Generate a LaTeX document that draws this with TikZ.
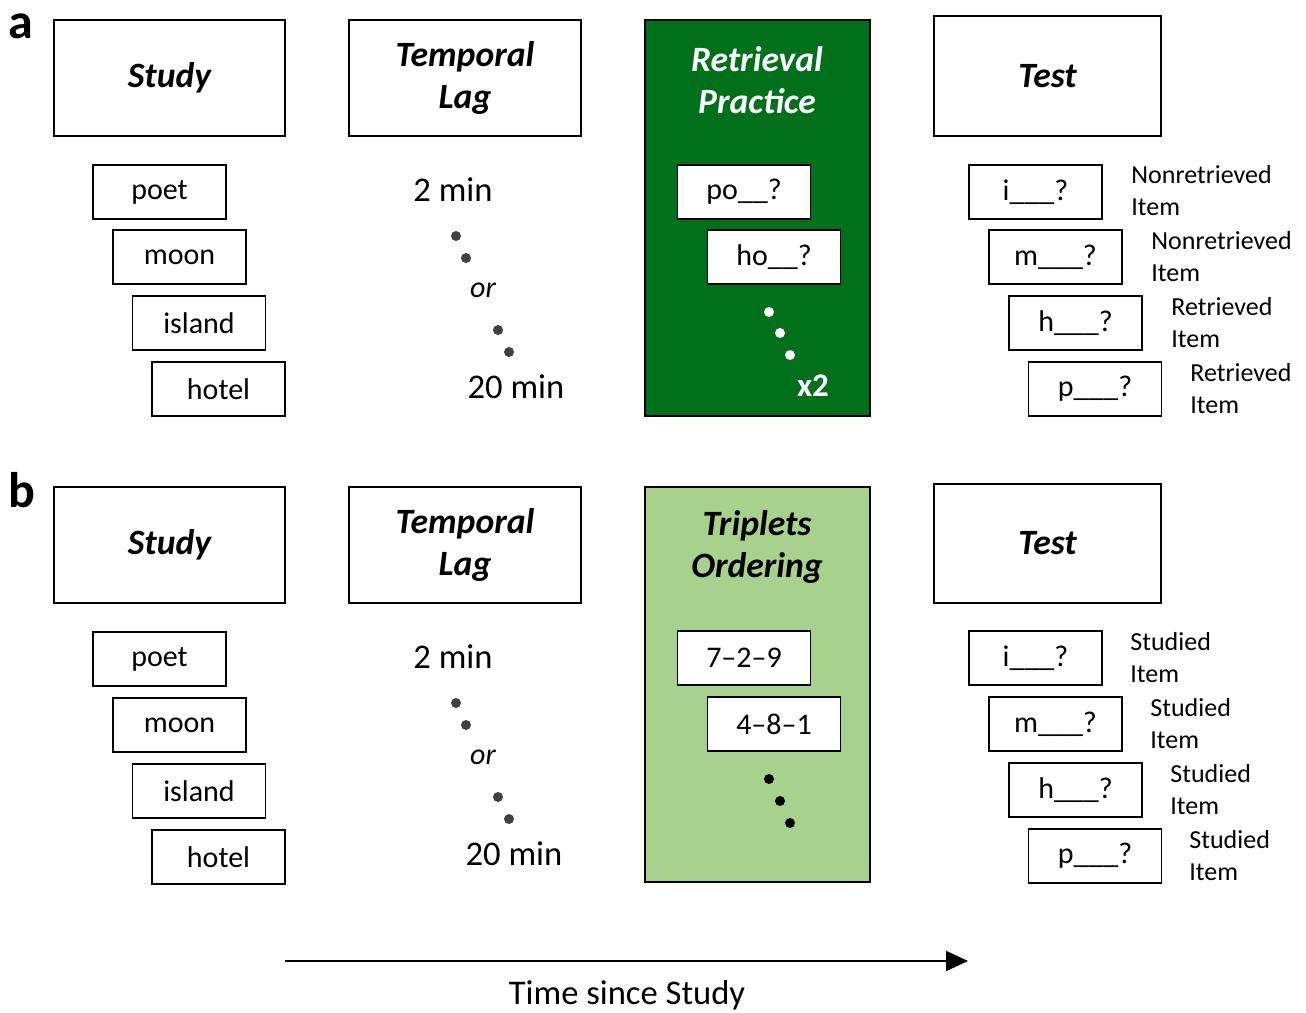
\documentclass[tikz,border=0pt]{standalone}
\usepackage{fontspec}
\setmainfont{Carlito}
\usetikzlibrary{arrows.meta}

\definecolor{rpgreen}{RGB}{0,112,26}
\definecolor{togreen}{RGB}{169,209,142}
\definecolor{dotgray}{RGB}{64,64,64}

\tikzset{
  stage/.style={draw, line width=1pt, align=center,
    font=\fontsize{17.8}{21}\selectfont\bfseries\itshape},
  word/.style={draw, line width=0.7pt, fill=white, minimum width=66.5pt,
    minimum height=27pt, font=\fontsize{15}{18}\selectfont},
  lag/.style={font=\fontsize{17.3}{20}\selectfont},
  note/.style={anchor=west, align=left, inner sep=0pt,
    font=\fontsize{13}{16}\selectfont},
  panel/.style={inner sep=0pt, font=\fontsize{25}{28}\selectfont\bfseries}
}

\begin{document}
\begin{tikzpicture}[x=0.5pt, y=-0.5pt]
    \useasboundingbox (0,0) rectangle (1306,1012);

    % panel a
    \node[panel] (labela) at (21,26) {a};
    \node[stage, minimum width=115.5pt, minimum height=58pt] (studya) at (169.5,78) {Study};
    \node[stage, minimum width=116pt, minimum height=58pt] (laga) at (465,78) {Temporal\\Lag};
    \node[stage, fill=rpgreen, minimum width=112.5pt, minimum height=198pt] (rpbox) at (757.5,218) {};
    \node[stage, draw=none, text=white] (rptitle) at (757,80) {Retrieval\\Practice};
    \node[stage, minimum width=113.5pt, minimum height=60pt] (testa) at (1047.5,76) {Test};

    \node[word] (poeta) at (159.5,192) {poet};
    \node[word] (moona) at (179.5,257) {moon};
    \node[word] (islanda) at (199,323) {island};
    \node[word] (hotela) at (218.5,389) {hotel};

    \node[lag] (twoa) at (453,190) {2 min};
    \fill[dotgray] (456,236) circle (2.5pt);
    \fill[dotgray] (466,258) circle (2.5pt);
    \node[lag, font=\fontsize{15}{17}\selectfont\itshape] (ora) at (483,290) {or};
    \fill[dotgray] (498,330) circle (2.5pt);
    \fill[dotgray] (509,352) circle (2.5pt);
    \node[lag] (twentya) at (516,387) {20 min};

    \node[word] (cuepo) at (744,192) {po\_\_?};
    \node[word] (cueho) at (774,257) {ho\_\_?};
    \fill[white] (769,312) circle (2.5pt);
    \fill[white] (780,333) circle (2.5pt);
    \fill[white] (790,355) circle (2.5pt);
    \node[text=white, font=\fontsize{16.5}{18}\selectfont\bfseries] (twice) at (813,386) {x2};

    \node[word] (testia) at (1035.5,192) {i\_\_\_?};
    \node[word] (testma) at (1055.5,257) {m\_\_\_?};
    \node[word] (testha) at (1075.5,323) {h\_\_\_?};
    \node[word] (testpa) at (1095,389) {p\_\_\_?};
    \node[note] (notei) at (1131,191) {Nonretrieved\\Item};
    \node[note] (notem) at (1151,257) {Nonretrieved\\Item};
    \node[note] (noteh) at (1171,323) {Retrieved\\Item};
    \node[note] (notep) at (1190,389) {Retrieved\\Item};

    % panel b
    \node[panel] (labelb) at (22,490) {b};
    \node[stage, minimum width=115.5pt, minimum height=58pt] (studyb) at (169.5,545) {Study};
    \node[stage, minimum width=116pt, minimum height=58pt] (lagb) at (465,545) {Temporal\\Lag};
    \node[stage, fill=togreen, minimum width=112.5pt, minimum height=197.5pt] (tobox) at (757.5,684.5) {};
    \node[stage, draw=none] (totitle) at (757,547) {Triplets\\Ordering};
    \node[stage, minimum width=113.5pt, minimum height=59.5pt] (testb) at (1047.5,543.5) {Test};

    \node[word] (poetb) at (159.5,659) {poet};
    \node[word] (moonb) at (179.5,725) {moon};
    \node[word] (islandb) at (199,791) {island};
    \node[word] (hotelb) at (218.5,857) {hotel};

    \node[lag] (twob) at (453,657) {2 min};
    \fill[dotgray] (456,703) circle (2.5pt);
    \fill[dotgray] (466,725) circle (2.5pt);
    \node[lag, font=\fontsize{15}{17}\selectfont\itshape] (orb) at (483,757) {or};
    \fill[dotgray] (498,797) circle (2.5pt);
    \fill[dotgray] (509,819) circle (2.5pt);
    \node[lag] (twentyb) at (514,854) {20 min};

    \node[word] (tripone) at (744,658) {7--2--9};
    \node[word] (triptwo) at (774,724) {4--8--1};
    \fill (769,779) circle (2.5pt);
    \fill (780,801) circle (2.5pt);
    \fill (790,823) circle (2.5pt);

    \node[word] (testib) at (1035.5,658) {i\_\_\_?};
    \node[word] (testmb) at (1055.5,724) {m\_\_\_?};
    \node[word] (testhb) at (1075.5,790) {h\_\_\_?};
    \node[word] (testpb) at (1095,856) {p\_\_\_?};
    \node[note] (noteib) at (1130,658) {Studied\\Item};
    \node[note] (notemb) at (1150,724) {Studied\\Item};
    \node[note] (notehb) at (1170,790) {Studied\\Item};
    \node[note] (notepb) at (1189,856) {Studied\\Item};

    % time axis
    \coordinate (tstart) at (285,961);
    \coordinate (tend) at (968,961);
    \draw[line width=1pt, -{Triangle[length=11pt, width=10pt]}] (tstart) -- (tend);
    \node[lag] (timelabel) at (627,995) {Time since Study};
\end{tikzpicture}
\end{document}
